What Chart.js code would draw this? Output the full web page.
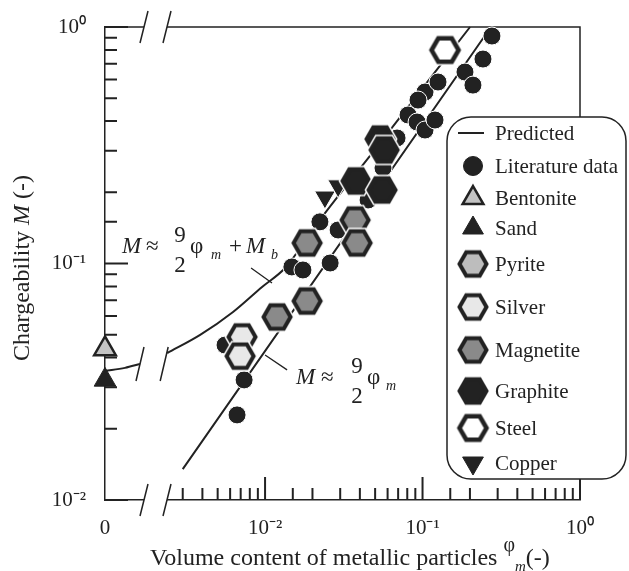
<!DOCTYPE html>
<html lang="en">
<head>
<meta charset="UTF-8">
<title>Chargeability vs volume content of metallic particles</title>
<script src="https://cdn.jsdelivr.net/npm/chart.js"></script>
<style>
    body { margin: 0; background: #fff; }
    #wrap { width: 629px; height: 571px; }
</style>
</head>
<body>
<div id="wrap"><canvas id="chart" width="629" height="571"></canvas></div>
<script>
// values (phi_m, M)
const litPhi = [0.00664, 0.00736, 0.00557, 0.0148, 0.0174, 0.0259, 0.0223, 0.0291, 0.0451, 0.0561, 0.0689, 0.0809, 0.0923, 0.1037, 0.120, 0.1037, 0.0936, 0.1254, 0.186, 0.209, 0.242, 0.276];
const litM   = [0.0229, 0.0322, 0.0452, 0.0967, 0.0939, 0.1005, 0.150, 0.1386, 0.1856, 0.2534, 0.3394, 0.4246, 0.3965, 0.3668, 0.4043, 0.531, 0.491, 0.5853, 0.645, 0.568, 0.732, 0.916];
const bentonitePhi = [0];
const bentoniteM   = [0.0435];
const sandPhi = [0];
const sandM   = [0.0322];
const pyritePhi = [];
const pyriteM   = [];
const silverPhi = [0.00714, 0.00694];
const silverM   = [0.0489, 0.0406];
const magnetitePhi = [0.01191, 0.01849, 0.01849, 0.0373, 0.0384];
const magnetiteM   = [0.0594, 0.0694, 0.1221, 0.1527, 0.1221];
const graphitePhi = [0.0537, 0.0570, 0.0378, 0.0553];
const graphiteM   = [0.336, 0.302, 0.2233, 0.2046];
const steelPhi = [0.139];
const steelM   = [0.799];
const copperPhi = [0.0240, 0.0291];
const copperM   = [0.191, 0.213];

// predicted curves
const predPhi = [0.003, 0.272];                 // M ~ 9/2 phi
const predM   = [0.0135, 1.0];
const predBPhi = [0.00239, 0.00387, 0.00626, 0.00957, 0.01339, 0.0223, 0.0537, 0.2003];   // M ~ 9/2 phi + Mb
const predBM   = [0.0418, 0.0499, 0.0624, 0.0796, 0.0957, 0.153, 0.323, 1.0];
const predB0Phi = [0, 0.0004, 0.0007];          // same curve, left of the axis break
const predB0M   = [0.0351, 0.0362, 0.0376];

const xTickMin = 0.002, xTickMax = 1;
const yTickMin = 0.01, yTickMax = 1;

const INK = '#222';
const SERIF = '"Liberation Serif", "Times New Roman", serif';

function pts(xs, ys) { return xs.map((v, i) => ({ x: v, y: ys[i] })); }
function isDecade(v) { const e = Math.log10(v); return Math.abs(e - Math.round(e)) < 1e-6; }
const SUP = { '-': '\u207B', '0': '\u2070', '1': '\u00B9', '2': '\u00B2' };
function powLabel(v) {
    if (!isDecade(v)) return '';
    const e = Math.round(Math.log10(v));
    return '10' + String(e).split('').map(c => SUP[c]).join('');
}

// hexagon marker (flat top, pointed sides) with a white halo
function hexMarker(fill, lw) {
    const r = 13.5, pad = 3;
    const w = Math.ceil(2 * r + lw + 2 * pad + 3), h = Math.ceil(2 * r * Math.sin(Math.PI / 3) + lw + 2 * pad + 3);
    const c = document.createElement('canvas');
    c.width = w; c.height = h;
    const g = c.getContext('2d');
    g.translate(w / 2, h / 2);
    g.beginPath();
    for (let i = 0; i < 6; i++) {
        const a = i * Math.PI / 3;
        g.lineTo(r * Math.cos(a), r * Math.sin(a));
    }
    g.closePath();
    g.lineJoin = 'miter';
    g.strokeStyle = '#fff'; g.lineWidth = lw + 3; g.stroke();
    g.fillStyle = fill; g.fill();
    g.strokeStyle = INK; g.lineWidth = lw; g.stroke();
    return c;
}

const lineStyle = { showLine: true, borderColor: INK, borderWidth: 2, pointRadius: 0, order: 10, clip: false, yAxisID: 'y',
                    cubicInterpolationMode: 'monotone' };

const datasets = [
    Object.assign({ label: 'Predicted', xAxisID: 'x', data: pts(predPhi, predM) }, lineStyle),
    Object.assign({ label: 'Predicted (Mb)', xAxisID: 'x', data: pts(predBPhi, predBM) }, lineStyle),
    Object.assign({ label: 'Predicted (Mb) near 0', xAxisID: 'x0', data: pts(predB0Phi, predB0M) }, lineStyle),
    { label: 'Literature data', xAxisID: 'x', yAxisID: 'y', data: pts(litPhi, litM), pointStyle: 'circle', pointRadius: 9,
      backgroundColor: INK, borderColor: '#fff', borderWidth: 1, order: 6, clip: false },
    { label: 'Bentonite', xAxisID: 'x0', yAxisID: 'y', data: pts(bentonitePhi, bentoniteM), pointStyle: 'triangle', pointRadius: 12.5,
      backgroundColor: '#c4c4c4', borderColor: INK, borderWidth: 2.5, order: 0, clip: false },
    { label: 'Sand', xAxisID: 'x0', yAxisID: 'y', data: pts(sandPhi, sandM), pointStyle: 'triangle', pointRadius: 12.5,
      backgroundColor: INK, borderColor: INK, borderWidth: 1, order: 0, clip: false },
    { label: 'Pyrite', xAxisID: 'x', yAxisID: 'y', data: pts(pyritePhi, pyriteM), pointStyle: hexMarker('#bdbdbd', 4), pointRadius: 14, order: 3, clip: false },
    { label: 'Silver', xAxisID: 'x', yAxisID: 'y', data: pts(silverPhi, silverM), pointStyle: hexMarker('#e8e8e8', 4), pointRadius: 14, order: 3, clip: false },
    { label: 'Magnetite', xAxisID: 'x', yAxisID: 'y', data: pts(magnetitePhi, magnetiteM), pointStyle: hexMarker('#8a8a8a', 4), pointRadius: 14, order: 3, clip: false },
    { label: 'Graphite', xAxisID: 'x', yAxisID: 'y', data: pts(graphitePhi, graphiteM), pointStyle: hexMarker(INK, 4), pointRadius: 14, order: 2, clip: false },
    { label: 'Steel', xAxisID: 'x', yAxisID: 'y', data: pts(steelPhi, steelM), pointStyle: hexMarker('#fff', 4.5), pointRadius: 14, order: 1, clip: false },
    { label: 'Copper', xAxisID: 'x', yAxisID: 'y', data: pts(copperPhi, copperM), pointStyle: 'triangle', rotation: 180, pointRadius: 12,
      backgroundColor: INK, borderColor: '#fff', borderWidth: 1, order: 4, clip: false }
];

const legendItems = ['Predicted', 'Literature data', 'Bentonite', 'Sand', 'Pyrite', 'Silver', 'Magnetite', 'Graphite', 'Steel', 'Copper'];
const legendRows = [133, 166, 198, 228, 264, 307, 350, 391, 428, 463];

// frame, inward ticks and axis breaks
const axisDeco = {
    id: 'axisDeco',
    beforeDatasetsDraw(chart) {
        const { ctx, chartArea: a, scales } = chart;
        const x = scales.x, y = scales.y, x0 = scales.x0;
        const gapL = x0.right - 11, gapR = x.left + 12;
        ctx.save();
        ctx.strokeStyle = INK;
        ctx.lineWidth = 1.5;
        ctx.beginPath();
        ctx.moveTo(a.left, a.top); ctx.lineTo(gapL, a.top);
        ctx.moveTo(gapR, a.top); ctx.lineTo(a.right, a.top); ctx.lineTo(a.right, a.bottom);
        ctx.stroke();
        ctx.fillStyle = '#fff';
        ctx.fillRect(gapL, a.bottom - 3, gapR - gapL, 6);

        ctx.lineWidth = 2;
        ctx.beginPath();
        y.ticks.forEach(t => {
            const p = y.getPixelForValue(t.value);
            const len = isDecade(t.value) ? 23 : 12;
            ctx.moveTo(a.left, p); ctx.lineTo(a.left + len, p);
        });
        x.ticks.forEach(t => {
            if (t.value <= x.min * 1.2) return;
            const p = x.getPixelForValue(t.value);
            const len = isDecade(t.value) ? 23 : 12;
            ctx.moveTo(p, a.bottom); ctx.lineTo(p, a.bottom - len);
        });
        ctx.stroke();

        // break slashes on top and bottom axes
        ctx.lineWidth = 1.5;
        ctx.beginPath();
        [gapL, gapR].forEach(cx => {
            [a.top, a.bottom].forEach(cy => {
                ctx.moveTo(cx - 4, cy + 16); ctx.lineTo(cx + 4, cy - 16);
            });
        });
        // break slashes on the predicted curve
        const yb = y.getPixelForValue(predB0M[predB0M.length - 1]);
        const xb1 = x0.getPixelForValue(predB0Phi[predB0Phi.length - 1]);
        const xb2 = x.getPixelForValue(predBPhi[0]) - 3;
        [xb1, xb2].forEach(cx => { ctx.moveTo(cx - 4, yb + 17); ctx.lineTo(cx + 4, yb - 17); });
        ctx.stroke();
        ctx.restore();
    }
};

function rich(ctx, parts) {
    parts.forEach(p => {
        ctx.font = p.f;
        ctx.textAlign = p.align || 'left';
        ctx.fillText(p.t, p.x, p.y);
    });
}

// formula annotations and axis titles
const annotations = {
    id: 'annotations',
    afterDatasetsDraw(chart) {
        const { ctx, scales } = chart;
        const x = scales.x, y = scales.y;
        const up = '23px ' + SERIF, it = 'italic 23px ' + SERIF, sub = 'italic 14px ' + SERIF;
        ctx.save();
        ctx.fillStyle = INK;
        ctx.textBaseline = 'alphabetic';
        rich(ctx, [
            { t: 'M', f: it, x: 122, y: 253 },
            { t: '\u2248', f: up, x: 146, y: 253 },
            { t: '9', f: up, x: 180, y: 242, align: 'center' },
            { t: '2', f: up, x: 180, y: 272, align: 'center' },
            { t: '\u03C6', f: up, x: 190, y: 253 },
            { t: 'm', f: sub, x: 211, y: 259 },
            { t: '+', f: up, x: 229, y: 253 },
            { t: 'M', f: it, x: 246, y: 253 },
            { t: 'b', f: sub, x: 271, y: 259 }
        ]);
        rich(ctx, [
            { t: 'M', f: it, x: 296, y: 384 },
            { t: '\u2248', f: up, x: 321, y: 384 },
            { t: '9', f: up, x: 357, y: 373, align: 'center' },
            { t: '2', f: up, x: 357, y: 403, align: 'center' },
            { t: '\u03C6', f: up, x: 367, y: 384 },
            { t: 'm', f: sub, x: 386, y: 390 }
        ]);
        // leader lines
        ctx.strokeStyle = INK;
        ctx.lineWidth = 1.3;
        ctx.beginPath();
        ctx.moveTo(x.getPixelForValue(0.00815), y.getPixelForValue(0.0957));
        ctx.lineTo(x.getPixelForValue(0.01107), y.getPixelForValue(0.0827));
        ctx.moveTo(x.getPixelForValue(0.0100), y.getPixelForValue(0.0410));
        ctx.lineTo(x.getPixelForValue(0.0138), y.getPixelForValue(0.0355));
        ctx.stroke();

        // y title
        ctx.save();
        ctx.translate(29, 268);
        ctx.rotate(-Math.PI / 2);
        const tf = '24px ' + SERIF, tfi = 'italic 24px ' + SERIF;
        const seg = [['Chargeability ', tf], ['M', tfi], [' (-)', tf]];
        let w = 0;
        seg.forEach(s => { ctx.font = s[1]; w += ctx.measureText(s[0]).width; });
        let cx = -w / 2;
        ctx.textAlign = 'left';
        seg.forEach(s => { ctx.font = s[1]; ctx.fillText(s[0], cx, 0); cx += ctx.measureText(s[0]).width; });
        ctx.restore();

        // x title
        ctx.textAlign = 'left';
        let px = 150;
        ctx.font = tf;
        ctx.fillText('Volume content of metallic particles ', px, 565);
        px += ctx.measureText('Volume content of metallic particles ').width;
        ctx.font = '20px ' + SERIF;
        ctx.fillText('\u03C6', px, 551);
        px += ctx.measureText('\u03C6').width;
        ctx.font = 'italic 15px ' + SERIF;
        ctx.fillText('m', px, 571);
        px += ctx.measureText('m').width;
        ctx.font = tf;
        ctx.fillText('(-)', px, 565);
        ctx.restore();
    }
};

function legendMarker(ctx, ds, cx, cy) {
    if (ds.showLine) {
        ctx.strokeStyle = INK; ctx.lineWidth = 2;
        ctx.beginPath(); ctx.moveTo(cx - 15, cy); ctx.lineTo(cx + 11, cy); ctx.stroke();
        return;
    }
    const st = ds.pointStyle;
    if (st instanceof HTMLCanvasElement) {
        ctx.drawImage(st, cx - st.width / 2, cy - st.height / 2);
        return;
    }
    const r = st === 'circle' ? 9.5 : 12;
    ctx.fillStyle = ds.backgroundColor;
    ctx.strokeStyle = ds.borderColor === '#fff' ? ds.backgroundColor : ds.borderColor;
    ctx.lineWidth = ds.borderWidth;
    Chart.helpers.drawPoint(ctx, { pointStyle: st, rotation: ds.rotation || 0, radius: r, borderWidth: ds.borderWidth }, cx, cy);
}

const legendBox = {
    id: 'legendBox',
    afterDraw(chart) {
        const { ctx } = chart;
        const L = 447, T = 117, R = 626, B = 479;
        ctx.save();
        ctx.beginPath();
        ctx.roundRect(L, T, R - L, B - T, 24);
        ctx.fillStyle = '#fff';
        ctx.fill();
        ctx.lineWidth = 1.5;
        ctx.strokeStyle = INK;
        ctx.stroke();
        ctx.font = '21px ' + SERIF;
        ctx.textBaseline = 'middle';
        ctx.textAlign = 'left';
        legendItems.forEach((name, i) => {
            const ds = chart.data.datasets.find(d => d.label === name);
            const cy = legendRows[i];
            legendMarker(ctx, ds, 473, cy);
            ctx.fillStyle = INK;
            ctx.fillText(name, 495, cy + 1);
        });
        ctx.restore();
    }
};

const tickFont = { family: SERIF, size: 21 };

new Chart(document.getElementById('chart'), {
    type: 'scatter',
    data: { datasets: datasets },
    options: {
        responsive: false,
        animation: false,
        events: [],
        layout: { padding: { top: 27, right: 49, left: 0, bottom: 0 } },
        plugins: { legend: { display: false }, tooltip: { enabled: false } },
        scales: {
            x0: {
                type: 'linear', position: 'bottom', stack: 'xs', stackWeight: 50, weight: 0,
                min: 0, max: 0.001,
                grid: { display: false },
                border: { color: INK, width: 1.5 },
                afterBuildTicks: s => { s.ticks = [{ value: 0 }]; },
                ticks: { callback: () => '0', font: tickFont, color: INK, padding: 8, maxRotation: 0, autoSkip: false },
                afterFit: s => { s.height = 71; }
            },
            x: {
                type: 'logarithmic', position: 'bottom', stack: 'xs', stackWeight: 425, weight: 1,
                min: xTickMin, max: xTickMax,
                grid: { display: false },
                border: { color: INK, width: 1.5 },
                ticks: { callback: v => powLabel(v), font: tickFont, color: INK, padding: 8, maxRotation: 0, autoSkip: false },
                afterFit: s => { s.height = 71; }
            },
            y: {
                type: 'logarithmic', position: 'left',
                min: yTickMin, max: yTickMax,
                grid: { display: false },
                border: { color: INK, width: 1.5 },
                ticks: { callback: v => powLabel(v), font: tickFont, color: INK, padding: 11, autoSkip: false },
                afterFit: s => { s.width = 105; }
            }
        }
    },
    plugins: [axisDeco, annotations, legendBox]
});
</script>
</body>
</html>
